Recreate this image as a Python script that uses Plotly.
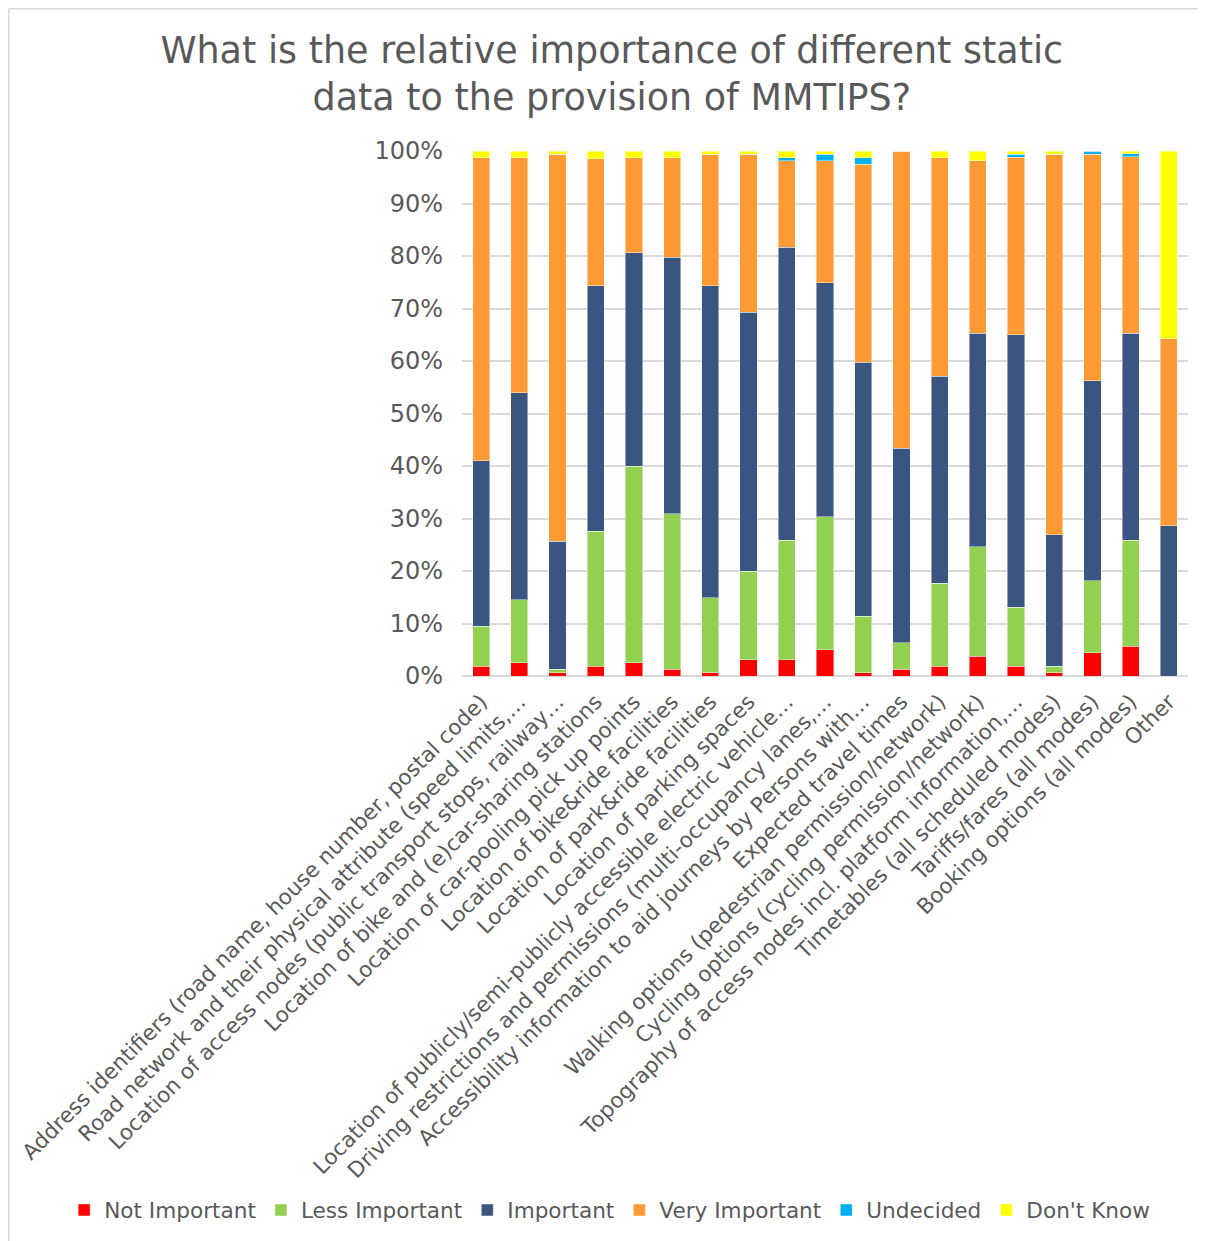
import plotly.graph_objects as go

categories = [
    "Address identifiers (road name, house number, postal code)",
    "Road network and their physical attribute (speed limits,…",
    "Location of access nodes (public transport stops, railway…",
    "Location of bike and (e)car-sharing stations",
    "Location of car-pooling pick up points",
    "Location of bike&ride facilities",
    "Location of park&ride facilities",
    "Location of parking spaces",
    "Location of publicly/semi-publicly accessible electric vehicle…",
    "Driving restrictions and permissions (multi-occupancy lanes,…",
    "Accessibility information to aid journeys by Persons with…",
    "Expected travel times",
    "Walking options (pedestrian permission/network)",
    "Cycling options (cycling permission/network)",
    "Topography of access nodes incl. platform information,…",
    "Timetables (all scheduled modes)",
    "Tariffs/fares (all modes)",
    "Booking options (all modes)",
    "Other",
]

not_important  = [1.9, 2.5, 0.6, 1.9, 2.5, 1.3, 0.6, 3.1, 3.1, 5.0, 0.6, 1.3, 1.9, 3.8, 1.9, 0.6, 4.4, 5.7, 0.0]
less_important = [7.6, 12.0, 0.7, 25.7, 37.5, 29.6, 14.3, 16.9, 22.8, 25.3, 10.8, 5.0, 15.8, 20.8, 11.2, 1.3, 13.7, 20.2, 0.0]
important      = [31.5, 39.5, 24.4, 46.7, 40.6, 48.9, 59.4, 49.3, 55.8, 44.6, 48.4, 37.1, 39.4, 40.7, 51.9, 25.0, 38.1, 39.4, 28.6]
very_important = [57.7, 44.7, 73.7, 24.2, 18.1, 18.9, 25.1, 30.1, 16.4, 23.2, 37.7, 56.6, 41.6, 32.8, 33.8, 72.5, 43.2, 33.6, 35.6]
undecided      = [0.0, 0.0, 0.0, 0.0, 0.0, 0.0, 0.0, 0.0, 0.6, 1.3, 1.2, 0.0, 0.0, 0.0, 0.6, 0.0, 0.6, 0.6, 0.0]
dont_know      = [1.3, 1.3, 0.6, 1.5, 1.3, 1.3, 0.6, 0.6, 1.3, 0.6, 1.3, 0.0, 1.3, 1.9, 0.6, 0.6, 0.0, 0.5, 35.8]

series_names = ["Not Important", "Less Important", "Important", "Very Important", "Undecided", "Don't Know"]
series_values = [not_important, less_important, important, very_important, undecided, dont_know]
colors = ["#FF0000", "#92D050", "#3A5580", "#FF9933", "#00B0F0", "#FFFF00"]

FONT = "DejaVu Sans"
GREY = "#595959"

fig = go.Figure()
for name, vals, col in zip(series_names, series_values, colors):
    fig.add_trace(go.Bar(
        x=categories, y=vals, name=name,
        marker=dict(color=col, line=dict(color="rgba(255,255,255,0.45)", width=1)),
    ))

# page body has an 8px margin; figure sized to fit the 1206x1241 window
W, H = 1198, 1233
border = dict(color="#D9D9D9", width=1.5)
fig.update_layout(
    barmode="stack",
    bargap=0.55,
    width=W, height=H,
    margin=dict(l=454, r=18, t=143, b=565, autoexpand=False),
    paper_bgcolor="white", plot_bgcolor="white",
    font=dict(family=FONT, color=GREY),
    title=dict(
        text="What is the relative importance of different static<br>data to the provision of MMTIPS?",
        x=0.504, xanchor="center", y=0.9555, yanchor="top",
        font=dict(family=FONT, size=36.5, color=GREY),
    ),
    legend=dict(
        orientation="h", traceorder="normal",
        x=-0.548, xanchor="left", y=-1.018, yanchor="middle",
        font=dict(family=FONT, size=21.6, color=GREY),
        itemwidth=30, tracegroupgap=0,
    ),
    xaxis=dict(
        tickangle=-45, tickfont=dict(family=FONT, size=21.5, color=GREY),
        showgrid=False, showline=False, ticks="", automargin=False,
        ticklabelstandoff=8,
    ),
    yaxis=dict(
        range=[0, 100], dtick=10, ticksuffix="%",
        tickfont=dict(family=FONT, size=24, color=GREY),
        showgrid=True, gridcolor="#D9D9D9", gridwidth=1.5,
        zeroline=True, zerolinecolor="#D9D9D9", zerolinewidth=1.5,
        showline=False, ticks="", automargin=False,
        ticklabelstandoff=18,
    ),
    shapes=[
        dict(type="line", xref="paper", yref="paper",
             x0=-0.6243, x1=-0.6243, y0=-1.0762, y1=1.271, line=border, layer="below"),
        dict(type="line", xref="paper", yref="paper",
             x0=-0.6243, x1=1.0248, y0=1.271, y1=1.271, line=border, layer="below"),
    ],
)

fig.write_html("out.html")
